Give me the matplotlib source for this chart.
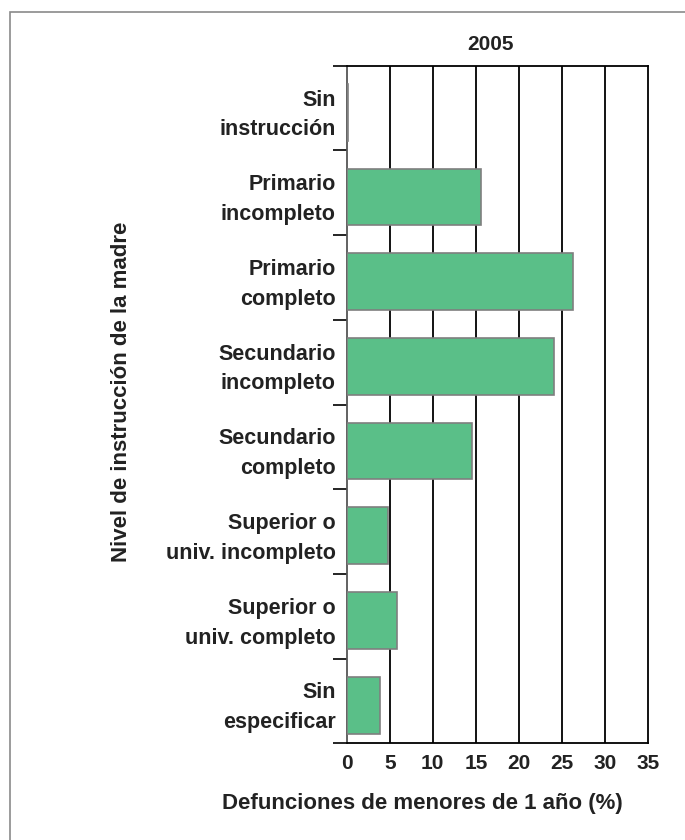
import matplotlib
matplotlib.use("Agg")
import matplotlib.pyplot as plt
from matplotlib.patches import Rectangle
import numpy as np

categories = ["Sin\ninstrucción", "Primario\nincompleto", "Primario\ncompleto",
              "Secundario\nincompleto", "Secundario\ncompleto",
              "Superior o\nuniv. incompleto", "Superior o\nuniv. completo",
              "Sin\nespecificar"]
values = [0.2, 15.6, 26.3, 24.1, 14.5, 4.8, 5.9, 3.9]
xticks = [0, 5, 10, 15, 20, 25, 30, 35]
title = "2005"
xlabel = "Defunciones de menores de 1 año (%)"
ylabel = "Nivel de instrucción de la madre"

plt.rcParams['font.family'] = ['Liberation Sans', 'DejaVu Sans']
txt = "#222222"

fig = plt.figure(figsize=(6.85, 8.4), dpi=100)
fig.patches.append(Rectangle((10/685, -0.1), 1.2, 1.1 - 12/840, transform=fig.transFigure,
                             fill=False, edgecolor="#8a8a8a", linewidth=1.2))

ax = fig.add_axes([346.7/685, 1 - 743.3/840, (648 - 346.7)/685, (743.3 - 65.7)/840])

n = len(categories)
pos = np.arange(n)
ax.barh(pos + 0.05, values, height=0.67, color="#5abf88", edgecolor="#7f7f7f",
        linewidth=1.2, zorder=3)

ax.set_xlim(0, 35)
ax.set_ylim(n - 0.5, -0.5)
ax.set_xticks(xticks)
ax.set_xticklabels([str(t) for t in xticks], fontsize=15, fontweight="bold", color=txt)
ax.tick_params(axis="x", length=0, pad=8)
for t in xticks[1:-1]:
    ax.axvline(t, color="black", linewidth=1.3, zorder=1)

ax.set_yticks(np.arange(n + 1) - 0.5)
ax.set_yticklabels([])
ax.tick_params(axis="y", which="major", length=10, width=1.2, color="black")
ax.set_yticks(pos, minor=True)
ax.set_yticklabels(categories, minor=True, fontsize=15.5, fontweight="bold", color=txt,
                   linespacing=1.55)
ax.tick_params(axis="y", which="minor", length=0, pad=8)

for s in ax.spines.values():
    s.set_linewidth(1.3)
    s.set_color("black")
ax.spines["left"].set_color("#555555")

fig.text(491/685, 1 - 45/840, title, ha="center", va="center", fontsize=15,
         fontweight="bold", color=txt)
fig.text(422/685, 1 - 803/840, xlabel, ha="center", va="center", fontsize=16,
         fontweight="bold", color=txt)
fig.text(122/685, 1 - 392/840, ylabel, ha="center", va="center", rotation=90,
         fontsize=16, fontweight="bold", color=txt)

fig.savefig("out.png", dpi=100)
